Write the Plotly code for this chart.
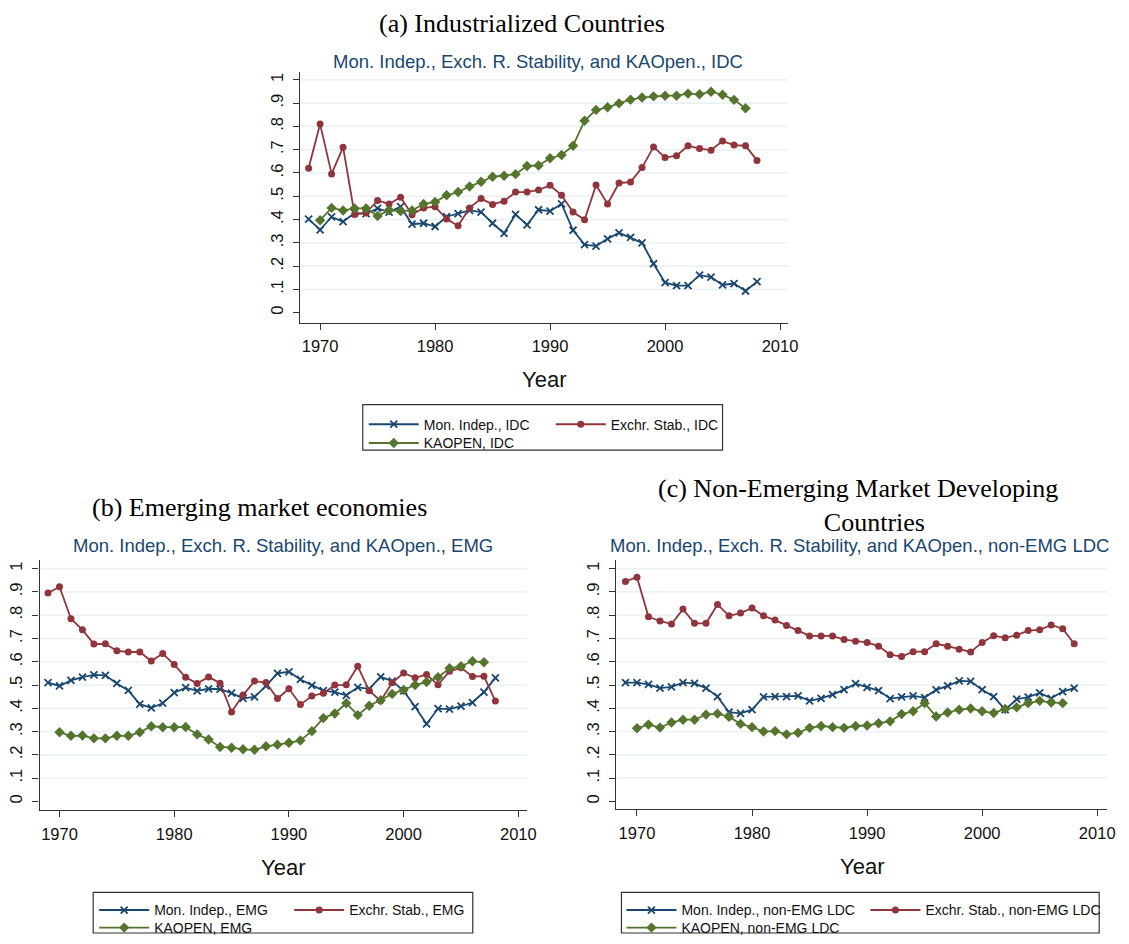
import plotly.graph_objects as go

W, H = 1129, 944

years = list(range(1969, 2009))
years_ka = list(range(1970, 2008))

# (a) Industrialized countries
mon_idc = [0.402, 0.356, 0.411, 0.391, 0.428, 0.425, 0.448, 0.432, 0.455, 0.380,
           0.384, 0.370, 0.412, 0.425, 0.439, 0.432, 0.384, 0.341, 0.422, 0.377,
           0.442, 0.436, 0.467, 0.354, 0.292, 0.286, 0.317, 0.343, 0.323, 0.300,
           0.210, 0.129, 0.116, 0.116, 0.161, 0.153, 0.119, 0.125, 0.093, 0.133]
exr_idc = [0.620, 0.810, 0.596, 0.711, 0.422, 0.428, 0.482, 0.467, 0.496, 0.421,
           0.450, 0.455, 0.402, 0.373, 0.450, 0.490, 0.465, 0.479, 0.518, 0.518,
           0.527, 0.547, 0.504, 0.432, 0.399, 0.548, 0.467, 0.557, 0.561, 0.623,
           0.712, 0.666, 0.674, 0.717, 0.705, 0.698, 0.737, 0.720, 0.717, 0.654]
ka_idc = [0.397, 0.450, 0.439, 0.448, 0.448, 0.415, 0.440, 0.436, 0.439, 0.467,
          0.475, 0.504, 0.518, 0.542, 0.562, 0.584, 0.588, 0.595, 0.630, 0.632,
          0.663, 0.677, 0.717, 0.824, 0.871, 0.882, 0.899, 0.915, 0.924, 0.929,
          0.932, 0.932, 0.941, 0.938, 0.949, 0.936, 0.914, 0.878]

# (b) Emerging market economies
mon_emg = [0.510, 0.496, 0.520, 0.534, 0.544, 0.542, 0.507, 0.477, 0.418, 0.402,
           0.422, 0.467, 0.489, 0.475, 0.484, 0.482, 0.465, 0.443, 0.449, 0.496,
           0.550, 0.557, 0.524, 0.499, 0.476, 0.470, 0.456, 0.490, 0.484, 0.535,
           0.517, 0.475, 0.407, 0.333, 0.399, 0.397, 0.409, 0.425, 0.470, 0.531]
exr_emg = [0.895, 0.922, 0.785, 0.737, 0.676, 0.677, 0.647, 0.642, 0.642, 0.603,
           0.635, 0.588, 0.533, 0.507, 0.535, 0.508, 0.384, 0.457, 0.517, 0.511,
           0.442, 0.484, 0.416, 0.453, 0.465, 0.500, 0.501, 0.581, 0.475, 0.433,
           0.510, 0.552, 0.531, 0.545, 0.501, 0.559, 0.574, 0.537, 0.538, 0.431]
ka_emg = [0.297, 0.282, 0.283, 0.271, 0.271, 0.282, 0.282, 0.297, 0.323, 0.319,
          0.319, 0.320, 0.288, 0.266, 0.234, 0.231, 0.224, 0.222, 0.237, 0.244,
          0.252, 0.262, 0.302, 0.358, 0.378, 0.422, 0.371, 0.411, 0.435, 0.462,
          0.479, 0.500, 0.513, 0.534, 0.572, 0.581, 0.602, 0.598]

# (c) Non-emerging market developing countries
mon_ldc = [0.510, 0.510, 0.503, 0.487, 0.492, 0.510, 0.507, 0.487, 0.450, 0.383,
           0.378, 0.394, 0.449, 0.450, 0.450, 0.453, 0.432, 0.443, 0.459, 0.480,
           0.506, 0.490, 0.476, 0.442, 0.449, 0.453, 0.446, 0.479, 0.496, 0.518,
           0.516, 0.480, 0.450, 0.394, 0.439, 0.448, 0.466, 0.443, 0.472, 0.487]
exr_ldc = [0.945, 0.963, 0.793, 0.775, 0.762, 0.826, 0.765, 0.765, 0.846, 0.797,
           0.809, 0.831, 0.797, 0.779, 0.756, 0.734, 0.711, 0.711, 0.711, 0.695,
           0.688, 0.683, 0.667, 0.630, 0.622, 0.643, 0.643, 0.677, 0.667, 0.654,
           0.642, 0.683, 0.712, 0.703, 0.714, 0.734, 0.737, 0.758, 0.742, 0.677]
ka_ldc = [0.314, 0.330, 0.317, 0.339, 0.351, 0.351, 0.373, 0.377, 0.363, 0.333,
          0.319, 0.300, 0.302, 0.288, 0.295, 0.316, 0.324, 0.319, 0.316, 0.324,
          0.326, 0.336, 0.344, 0.375, 0.387, 0.422, 0.365, 0.382, 0.394, 0.399,
          0.387, 0.380, 0.397, 0.404, 0.422, 0.432, 0.425, 0.422]

y_ticks = [0, 0.1, 0.2, 0.3, 0.4, 0.5, 0.6, 0.7, 0.8, 0.9, 1]
y_tick_text = ["0", ".1", ".2", ".3", ".4", ".5", ".6", ".7", ".8", ".9", "1"]
x_ticks = [1970, 1980, 1990, 2000, 2010]

NAVY = "#1a476f"
MAROON = "#90353b"
GREEN = "#55752f"
GRID = "#eaf2f3"
SANS = "Liberation Sans, Arial, sans-serif"
SERIF = "Liberation Serif, Times New Roman, serif"


def px_x(p):
    return p / W


def px_y(p):
    return 1 - p / H


panels = [
    dict(tag="IDC", mon=mon_idc, exr=exr_idc, ka=ka_idc,
         dom_x=(303, 795), dom_y=(72.7, 326), xr=[1968.28, 2010.69], yr=[-0.0425, 1.034],
         legends=("legend", "legend2")),
    dict(tag="EMG", mon=mon_emg, exr=exr_emg, ka=ka_emg,
         dom_x=(40, 532), dom_y=(566, 819), xr=[1968.27, 2010.78], yr=[-0.038, 1.037],
         legends=("legend3", "legend4")),
    dict(tag="non-EMG LDC", mon=mon_ldc, exr=exr_ldc, ka=ka_ldc,
         dom_x=(622, 1117), dom_y=(566, 818), xr=[1968.22, 2010.86], yr=[-0.034, 1.037],
         legends=("legend5", "legend6")),
]

fig = go.Figure()
layout = {}
shapes = []
annotations = []

for i, p in enumerate(panels, start=1):
    xa = "x" if i == 1 else f"x{i}"
    ya = "y" if i == 1 else f"y{i}"
    lg1, lg2 = p["legends"]
    fig.add_trace(go.Scatter(
        x=years, y=p["mon"], xaxis=xa, yaxis=ya, mode="lines+markers",
        name=f"Mon. Indep., {p['tag']}", legend=lg1,
        line=dict(color=NAVY, width=1.8),
        marker=dict(symbol="x-thin", size=7, line=dict(color=NAVY, width=1.8))))
    fig.add_trace(go.Scatter(
        x=years, y=p["exr"], xaxis=xa, yaxis=ya, mode="lines+markers",
        name=f"Exchr. Stab., {p['tag']}", legend=lg1,
        line=dict(color=MAROON, width=1.8),
        marker=dict(symbol="circle", size=7, color=MAROON)))
    fig.add_trace(go.Scatter(
        x=years_ka, y=p["ka"], xaxis=xa, yaxis=ya, mode="lines+markers",
        name=f"KAOPEN, {p['tag']}", legend=lg2,
        line=dict(color=GREEN, width=1.8),
        marker=dict(symbol="diamond", size=8, color=GREEN)))

    xkey = "xaxis" if i == 1 else f"xaxis{i}"
    ykey = "yaxis" if i == 1 else f"yaxis{i}"
    layout[xkey] = dict(
        domain=[px_x(p["dom_x"][0]), px_x(p["dom_x"][1])], range=p["xr"],
        anchor=ya, tickvals=x_ticks, ticks="outside", ticklen=6, tickwidth=1.2,
        tickcolor="#333", showline=True, linecolor="#333", linewidth=1.3,
        ticklabelstandoff=3,
        showgrid=False, zeroline=False,
        tickfont=dict(family=SANS, size=16.5, color="#111"))
    layout[ykey] = dict(
        domain=[px_y(p["dom_y"][1]), px_y(p["dom_y"][0])], range=p["yr"],
        anchor=xa, tickvals=y_ticks, ticktext=y_tick_text, tickangle=-90,
        ticks="outside", ticklen=6, tickwidth=1.2, tickcolor="#333",
        ticklabelstandoff=4,
        showline=True, linecolor="#333", linewidth=1.3,
        showgrid=False, zeroline=False,
        tickfont=dict(family=SANS, size=16.5, color="#111"))

    # light gridlines (Stata draws none at the axis minimum)
    for v in y_ticks[1:]:
        shapes.append(dict(type="line", xref=f"{xa} domain", x0=0, x1=1,
                           yref=ya, y0=v, y1=v, layer="below",
                           line=dict(color=GRID, width=1.6)))

    # "Year" axis title
    annotations.append(dict(text="Year", xref=f"{xa} domain", x=0.5,
                            yref="paper", y=px_y(p["dom_y"][1] + 58),
                            showarrow=False, yanchor="middle",
                            font=dict(family=SANS, size=22, color="#111")))

# headings and subtitles
heads = [
    ("(a) Industrialized Countries", 527, 24),
    ("(b) Emerging market economies", 262, 513),
    ("(c) Non-Emerging Market Developing<br>     Countries", 866, 511),
]
for text, cx, cy in heads:
    annotations.append(dict(text=text, xref="paper", yref="paper", x=px_x(cx), y=px_y(cy),
                            showarrow=False, yanchor="middle", xanchor="center",
                            font=dict(family=SERIF, size=26, color="#000")))
subs = [
    ("Mon. Indep., Exch. R. Stability, and KAOpen., IDC", 543, 62),
    ("Mon. Indep., Exch. R. Stability, and KAOpen., EMG", 286, 551),
    ("Mon. Indep., Exch. R. Stability, and KAOpen., non-EMG LDC", 867, 551),
]
for text, cx, cy in subs:
    annotations.append(dict(text=text, xref="paper", yref="paper", x=px_x(cx), y=px_y(cy),
                            showarrow=False, yanchor="middle", xanchor="center",
                            font=dict(family=SANS, size=18.5, color=NAVY)))

# legends: one row per legend, frame drawn as shape
leg_specs = [
    # name, left px, row center px, entrywidth
    ("legend", 367, 423, 122),
    ("legend2", 367, 442, 122),
    ("legend3", 95, 914, 130),
    ("legend4", 95, 932, 130),
    ("legend5", 627, 914, 179),
    ("legend6", 627, 932, 179),
]
for name, lx, ly, ew in leg_specs:
    layout[name] = dict(
        x=px_x(lx), y=px_y(ly - 10), xanchor="left", yanchor="top",
        orientation="h", itemwidth=50, entrywidth=ew, entrywidthmode="pixels",
        bgcolor="rgba(0,0,0,0)", borderwidth=0, tracegroupgap=0,
        font=dict(family=SANS, size=14, color="#111"))

frames = [(366, 409, 729, 455), (94, 902, 477, 943), (627, 902, 1109, 943)]
for x0, y0, x1, y1 in frames:
    shapes.append(dict(type="rect", xref="paper", yref="paper",
                       x0=px_x(x0), x1=px_x(x1), y0=px_y(y1), y1=px_y(y0),
                       line=dict(color="#333", width=1.2), fillcolor="rgba(0,0,0,0)"))

fig.update_layout(
    width=W, height=H, margin=dict(l=0, r=0, t=0, b=0),
    paper_bgcolor="white", plot_bgcolor="white",
    shapes=shapes, annotations=annotations, showlegend=True,
    **layout)

# the page body has a default 8px margin; drop it so the figure fills the window
fig.write_html("out.html", config={"displayModeBar": False},
               post_script="document.body.style.margin = '0px';")
